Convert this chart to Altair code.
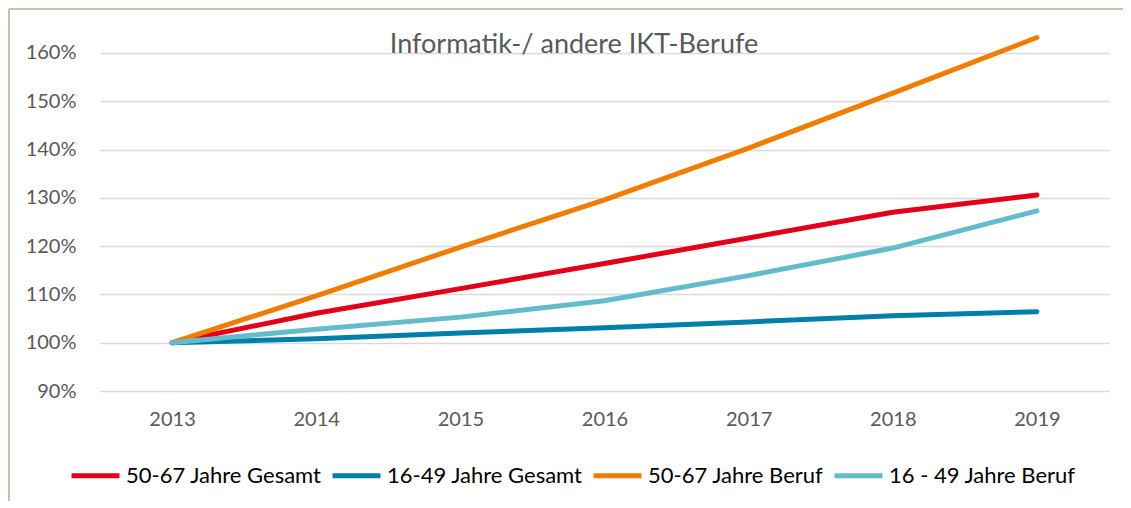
import altair as alt
import pandas as pd

years = ["2013", "2014", "2015", "2016", "2017", "2018", "2019"]
series_names = ["50-67 Jahre Gesamt", "16-49 Jahre Gesamt", "50-67 Jahre Beruf", "16 - 49 Jahre Beruf"]
series_colors = ["#E2001A", "#007FAA", "#F07D00", "#62BCCB"]
red_vals = [1.000, 1.061, 1.112, 1.164, 1.217, 1.270, 1.306]
darkblue_vals = [1.000, 1.008, 1.020, 1.031, 1.043, 1.056, 1.064]
orange_vals = [1.000, 1.097, 1.198, 1.296, 1.403, 1.517, 1.632]
lightblue_vals = [1.000, 1.028, 1.053, 1.087, 1.139, 1.196, 1.273]
y_ticks = [0.9, 1.0, 1.1, 1.2, 1.3, 1.4, 1.5, 1.6]
title_text = "Informatik-/ andere IKT-Berufe"

all_vals = [red_vals, darkblue_vals, orange_vals, lightblue_vals]
rows = []
for name, vals in zip(series_names, all_vals):
    for i, (yr, v) in enumerate(zip(years, vals)):
        rows.append({"Jahr": yr, "Wert": v, "Reihe": name, "ord": series_names.index(name)})
df = pd.DataFrame(rows)

FONT = "Lato"

lines = alt.Chart(df).mark_line(strokeWidth=5, strokeCap="round", strokeJoin="round").encode(
    x=alt.X("Jahr:O", sort=years,
            scale=alt.Scale(type="point", padding=0.5),
            axis=alt.Axis(title=None, labelAngle=0, domain=False, ticks=False, grid=False,
                          labelPadding=18, labelFontSize=20, labelColor="#595959", labelFont=FONT)),
    y=alt.Y("Wert:Q", scale=alt.Scale(domain=[0.9, 1.66], nice=False, zero=False),
            axis=alt.Axis(title=None, format=".0%", values=y_ticks, domain=False, ticks=False,
                          grid=True, gridColor="#D9D9D9", gridWidth=1.5,
                          labelPadding=24, labelFontSize=20, labelColor="#595959", labelFont=FONT)),
    color=alt.Color("Reihe:N", sort=series_names,
                    scale=alt.Scale(domain=series_names, range=series_colors),
                    legend=alt.Legend(title=None, orient="none", direction="horizontal", columns=4,
                                      legendX=-31, legendY=425, symbolType="stroke",
                                      symbolSize=2300, symbolStrokeWidth=5,
                                      labelFontSize=22, labelFont=FONT, labelColor="#000000",
                                      labelLimit=400, labelOffset=4, columnPadding=0)),
    order=alt.Order("ord:Q"),
    detail="Reihe:N",
)

title_df = pd.DataFrame({"t": [title_text]})
title = alt.Chart(title_df).mark_text(
    font=FONT, fontSize=27, color="#595959", baseline="alphabetic", align="center"
).encode(text="t:N", x=alt.value(474), y=alt.value(29))

border_df = pd.DataFrame({"b": [0]})
border_left = alt.Chart(border_df).mark_rule(color="#C9C2A3", strokeWidth=2).encode(
    x=alt.value(-91), y=alt.value(-15), y2=alt.value(520))
border_top = alt.Chart(border_df).mark_rule(color="#C9C2A3", strokeWidth=2).encode(
    x=alt.value(-91), x2=alt.value(1030), y=alt.value(-15))

chart = alt.layer(lines, title, border_left, border_top).properties(
    width=1009, height=367,
    autosize=alt.AutoSizeParams(type="none"),
    padding={"left": 92, "top": 16, "right": 14, "bottom": 110},
).configure_view(stroke=None)

chart.save("out.html", embed_options={"renderer": "svg", "actions": False})
